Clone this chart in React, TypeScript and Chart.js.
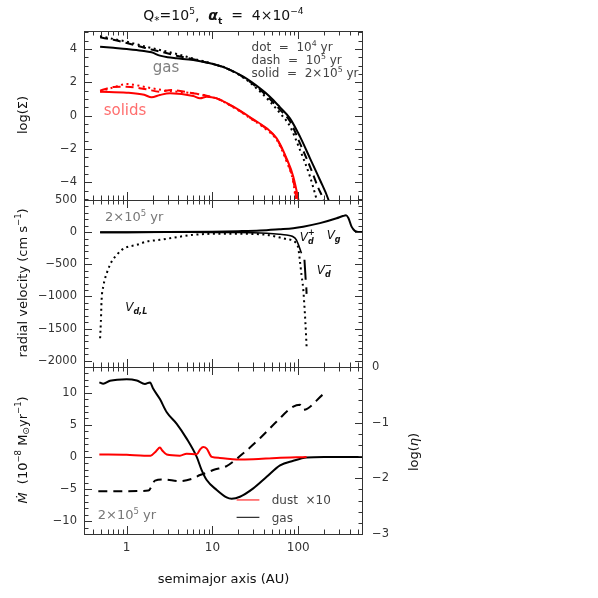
import React, { useEffect, useRef } from 'react';
import { Chart, registerables } from 'chart.js';
Chart.register(...registerables);

const FONT = 'DejaVu Sans';

// ---------- axes ----------
const X_MIN = 0.318;
const X_MAX = 568;
const X_MAJOR = [1, 10, 100];
const X_MINOR = [0.4, 0.5, 0.6, 0.7, 0.8, 0.9, 2, 3, 4, 5, 6, 7, 8, 9, 20, 30, 40, 50, 60, 70, 80, 90, 200, 300, 400, 500];

const SIG_RANGE = [-5.06, 5.08];
const SIG_MAJOR = [-4, -2, 0, 2, 4];
const SIG_MINOR_STEP = 0.5;

const VEL_RANGE = [-2098, 500];
const VEL_MAJOR = [-2000, -1500, -1000, -500, 0, 500];
const VEL_MINOR_STEP = 100;

const MDOT_RANGE = [-12, 14];
const MDOT_MAJOR = [-10, -5, 0, 5, 10];
const MDOT_MINOR_STEP = 1;

const ETA_RANGE = [-3, 0];
const ETA_MAJOR = [-3, -2, -1, 0];
const ETA_MINOR_STEP = 0.2;

// ---------- panel 1: log(Sigma) [AU, value] ----------
const gasSigma2e5 = [[0.49, 4.14], [0.7, 4.07], [1.0, 4.0], [1.5, 3.9], [1.95, 3.8], [2.44, 3.6], [3.0, 3.5], [3.83, 3.44], [5.97, 3.34], [9.35, 3.14], [14.6, 2.84], [22.9, 2.34], [35.8, 1.64], [46.7, 1.14], [61.3, 0.5], [80, -0.16], [104.7, -1.26], [137, -2.56], [179, -3.86], [223, -5.0], [240, -5.6]];
const gasSigma1e5 = [[0.49, 4.7], [0.7, 4.55], [1.0, 4.36], [1.5, 4.12], [2.0, 3.95], [2.44, 3.85], [3.83, 3.6], [5.97, 3.38], [9.35, 3.14], [14.6, 2.84], [22.9, 2.3], [35.8, 1.55], [46.7, 1.0], [61.3, 0.35], [80, -0.34], [104.7, -1.66], [137, -3.06], [170, -4.3], [195, -5.0], [210, -5.6]];
const gasSigma1e4 = [[0.49, 4.78], [0.7, 4.6], [1.0, 4.44], [1.5, 4.2], [2.44, 3.94], [3.83, 3.7], [5.97, 3.42], [9.35, 3.16], [14.6, 2.84], [22.9, 2.28], [35.8, 1.45], [46.7, 0.85], [61.3, 0.15], [80, -0.64], [104.7, -2.06], [137, -3.66], [163, -5.0], [175, -5.6]];
const dustSigma2e5 = [[0.49, 1.44], [1.0, 1.38], [1.6, 1.25], [1.95, 1.1], [2.44, 1.24], [3.2, 1.34], [5.97, 1.18], [7.15, 1.04], [8.56, 1.14], [11.2, 1.04], [17.5, 0.54], [29.9, -0.22], [42.8, -0.76], [56, -1.36], [73, -2.56], [87.5, -3.66], [100, -5.0], [105, -5.6]];
const dustSigma1e5 = [[0.49, 1.5], [0.7, 1.72], [1.0, 1.74], [1.71, 1.58], [2.44, 1.44], [3.3, 1.54], [5.97, 1.34], [8.0, 1.24], [9.35, 1.14], [11.2, 1.04], [17.5, 0.52], [29.9, -0.25], [42.8, -0.8], [56, -1.4], [73, -2.65], [87.5, -3.9], [95, -5.0], [98, -5.6]];
const dustSigma1e4 = [[0.49, 1.44], [0.7, 1.7], [1.0, 1.9], [1.71, 1.7], [2.9, 1.5], [5.97, 1.34], [9.35, 1.14], [11.2, 1.04], [17.5, 0.5], [29.9, -0.28], [42.8, -0.85], [56, -1.45], [73, -2.75], [87.5, -4.0], [93, -5.0], [96, -5.6]];

// ---------- panel 2: radial velocity (cm/s) ----------
const velGas = [[0.49, 0], [1, 0], [3, 2], [10, 8], [20, 15], [35.8, 25], [60, 45], [87.5, 62], [114, 85], [179, 140], [280, 215], [330, 250], [360, 262], [385, 215], [418, 85], [456, 20], [500, 3], [568, 0]];
const velDustPlus = [[0.49, -3], [1, -3], [5, -2], [10, -3], [20, -6], [30, -10], [42.8, -18], [60, -32], [73, -45], [85, -65], [95, -120], [102, -220], [109, -330]];
const velDustMinus = [[118, -430], [122, -740], [123, null], [124, -860], [125, -960]];
const velDustL = [[0.49, -1651], [0.5, -1400], [0.51, -1055], [0.533, -847], [0.585, -640], [0.668, -458], [0.765, -354], [0.875, -276], [1.0, -234], [1.31, -198], [1.71, -146], [2.44, -120], [3.83, -78], [5.97, -42], [9.35, -26], [14.6, -24], [25, -26], [42.8, -42], [61.3, -84], [73, -110], [85, -125], [91.6, -150], [100, -249], [104.7, -458], [109, -665], [114, -872], [117, -1081], [121, -1400], [125, -1782]];

// ---------- panel 3: Mdot (1e-8 Msun/yr) and log(eta) ----------
const mdotGas = [[0.48, 11.6], [0.533, 11.4], [0.638, 11.85], [1.0, 12.1], [1.31, 11.9], [1.63, 11.35], [1.87, 11.6], [2.04, 10.6], [2.44, 9.0], [2.93, 6.95], [3.83, 5.15], [5.0, 2.85], [6.55, 0], [7.48, -2.05], [8.56, -3.6], [11.2, -5.15], [14.6, -6.3], [16.7, -6.5], [20.9, -6.2], [29.9, -4.9], [42.8, -3.1], [61.3, -1.3], [87.5, -0.6], [125, -0.1], [200, 0], [568, 0]];
const mdotDustX10 = [[0.48, 0.37], [1.0, 0.33], [1.6, 0.2], [1.9, 0.2], [2.2, 0.9], [2.44, 1.45], [2.6, 1.0], [2.93, 0.37], [4.18, 0.2], [5.0, 0.5], [6.55, 0.4], [7.2, 1.2], [7.8, 1.55], [8.56, 1.3], [9.8, 0], [12.2, -0.15], [19.1, -0.4], [29.9, -0.35], [56, -0.15], [125, 0]];
const logEta = [[0.467, -2.23], [1.0, -2.23], [1.79, -2.22], [2.14, -2.04], [2.67, -2.02], [4.18, -2.05], [5.97, -2.0], [7.15, -1.94], [8.56, -1.9], [10.2, -1.85], [14.6, -1.78], [20.9, -1.6], [35.8, -1.28], [56, -0.98], [87.5, -0.71], [104.7, -0.68], [114, -0.77], [195, -0.49]];

// ---------- helpers ----------
const pts = (arr: any[]) => arr.map(([x, y]) => ({ x, y }));
const range = (a: number, b: number, s: number) => {
  const out: number[] = [];
  for (let i = 0; a + i * s <= b + 1e-9; i++) out.push(+(a + i * s).toFixed(6));
  return out;
};

const RED = 'rgb(255,0,0)';
const BLK = '#000';

function line(data: any[], color: string, dash: number[] = [], yAxisID = 'y', width = 2) {
  return {
    data: pts(data),
    borderColor: color,
    borderWidth: width,
    borderDash: dash,
    pointRadius: 0,
    fill: false,
    cubicInterpolationMode: 'monotone',
    spanGaps: false,
    yAxisID,
  };
}

type Seg = { t: string; s?: number; dy?: number; st?: string };
function rich(ctx: CanvasRenderingContext2D, x: number, y: number, segs: Seg[], size: number, align: 'left' | 'center' | 'right', color: string) {
  const fonts = segs.map(g => `${g.st ? g.st + ' ' : ''}${(size * (g.s ?? 1)).toFixed(1)}px "${FONT}"`);
  let w = 0;
  segs.forEach((g, i) => { ctx.font = fonts[i]; w += ctx.measureText(g.t).width; });
  let cx = align === 'center' ? x - w / 2 : align === 'right' ? x - w : x;
  ctx.fillStyle = color;
  ctx.textAlign = 'left';
  ctx.textBaseline = 'alphabetic';
  const base = y + size * 0.36;
  segs.forEach((g, i) => {
    ctx.font = fonts[i];
    ctx.fillText(g.t, cx, base + (g.dy ?? 0) * size);
    cx += ctx.measureText(g.t).width;
  });
}
function richRot(ctx: CanvasRenderingContext2D, x: number, y: number, segs: Seg[], size: number, color: string) {
  ctx.save();
  ctx.translate(x, y);
  ctx.rotate(-Math.PI / 2);
  rich(ctx, 0, 0, segs, size, 'center', color);
  ctx.restore();
}
function drawV(ctx: CanvasRenderingContext2D, x: number, yc: number, sub: string, sup: string | null) {
  ctx.fillStyle = '#111';
  ctx.textAlign = 'left';
  ctx.textBaseline = 'alphabetic';
  ctx.font = `italic 12px "${FONT}"`;
  const base = yc + 4;
  ctx.fillText('V', x, base);
  const w = ctx.measureText('V').width;
  ctx.font = `italic bold 8px "${FONT}"`;
  ctx.fillText(sub, x + w, base + 3);
  if (sup) ctx.fillText(sup, x + w, base - 6);
}

function tickSet(ctx: CanvasRenderingContext2D, a: any, scale: any, values: number[], len: number, side: string) {
  for (const v of values) {
    if (v < scale.min - 1e-9 || v > scale.max + 1e-9) continue;
    const p = Math.round(scale.getPixelForValue(v)) + 0.5;
    ctx.beginPath();
    if (side === 'top') { ctx.moveTo(p, a.top); ctx.lineTo(p, a.top + len); }
    if (side === 'bottom') { ctx.moveTo(p, a.bottom); ctx.lineTo(p, a.bottom - len); }
    if (side === 'left') { ctx.moveTo(a.left, p); ctx.lineTo(a.left + len, p); }
    if (side === 'right') { ctx.moveTo(a.right, p); ctx.lineTo(a.right - len, p); }
    ctx.stroke();
  }
}

type PanelCfg = {
  id: string;
  top: number;
  bottom: number;
  yRange: number[];
  yMajor: number[];
  yMinorStep: number;
  showX: boolean;
  right?: { range: number[]; major: number[]; minorStep: number };
  datasets: any[];
  annotate: (ctx: CanvasRenderingContext2D, X: (v: number) => number, Y: (v: number) => number, chart: any) => void;
};

const MAJ = 8;
const MIN = 4.5;

function makePanel(canvas: HTMLCanvasElement, c: PanelCfg) {
  const xh = c.showX ? 64 : 0;
  const tickFont = { family: FONT, size: 11.5 };
  const scales: any = {
    x: {
      type: 'logarithmic', min: X_MIN, max: X_MAX, bounds: 'data',
      grid: { display: false, drawTicks: false }, border: { display: false },
      ticks: { display: c.showX, padding: 7, color: '#333', font: { family: FONT, size: 12 }, autoSkip: false, maxRotation: 0, callback: (v: any) => String(v) },
      afterBuildTicks: (s: any) => { s.ticks = X_MAJOR.map(v => ({ value: v })); },
      afterFit: (s: any) => { s.height = xh; },
    },
    y: {
      type: 'linear', position: 'left', min: c.yRange[0], max: c.yRange[1], bounds: 'data',
      grid: { display: false, drawTicks: false }, border: { display: false },
      ticks: { padding: 7, color: '#333', font: tickFont, autoSkip: false, callback: (v: any) => String(v).replace('-', '\u2212') },
      afterBuildTicks: (s: any) => { s.ticks = c.yMajor.map(v => ({ value: v })); },
      afterFit: (s: any) => { s.width = 84; },
    },
  };
  if (c.right) {
    const r = c.right;
    scales.y2 = {
      type: 'linear', position: 'right', min: r.range[0], max: r.range[1], bounds: 'data',
      grid: { display: false, drawTicks: false }, border: { display: false },
      ticks: { padding: 9, color: '#333', font: tickFont, autoSkip: false, callback: (v: any) => String(v).replace('-', '\u2212') },
      afterBuildTicks: (s: any) => { s.ticks = r.major.map(v => ({ value: v })); },
      afterFit: (s: any) => { s.width = 598 - 363; },
    };
  }
  const framePlugin = {
    id: 'frame_' + c.id,
    afterDraw(chart: any) {
      const ctx: CanvasRenderingContext2D = chart.ctx;
      const a = chart.chartArea;
      const sx = chart.scales.x;
      const sy = chart.scales.y;
      ctx.save();
      ctx.strokeStyle = '#333';
      ctx.lineWidth = 1;
      ctx.strokeRect(a.left + 0.5, a.top + 0.5, a.right - a.left - 1, a.bottom - a.top);
      tickSet(ctx, a, sx, X_MAJOR, MAJ, 'top');
      tickSet(ctx, a, sx, X_MINOR, MIN, 'top');
      tickSet(ctx, a, sx, X_MAJOR, MAJ, 'bottom');
      tickSet(ctx, a, sx, X_MINOR, MIN, 'bottom');
      const yMinor = range(Math.ceil(c.yRange[0] / c.yMinorStep) * c.yMinorStep, c.yRange[1], c.yMinorStep);
      tickSet(ctx, a, sy, c.yMajor, MAJ, 'left');
      tickSet(ctx, a, sy, yMinor, MIN, 'left');
      if (c.right) {
        const s2 = chart.scales.y2;
        const r = c.right;
        const m2 = range(r.range[0], r.range[1], r.minorStep);
        tickSet(ctx, a, s2, r.major, MAJ, 'right');
        tickSet(ctx, a, s2, m2, MIN, 'right');
      } else {
        tickSet(ctx, a, sy, c.yMajor, MAJ, 'right');
        tickSet(ctx, a, sy, yMinor, MIN, 'right');
      }
      c.annotate(ctx, (v) => sx.getPixelForValue(v), (v) => sy.getPixelForValue(v), chart);
      ctx.restore();
    },
  };
  return new Chart(canvas, {
    type: 'line',
    data: { datasets: c.datasets },
    options: {
      animation: false,
      responsive: false,
      devicePixelRatio: 1,
      events: [],
      layout: { padding: { top: c.top, bottom: 598 - c.bottom - xh, left: 0, right: c.right ? 0 : 598 - 363 } },
      plugins: { legend: { display: false }, tooltip: { enabled: false }, title: { display: false } },
      scales,
    } as any,
    plugins: [framePlugin],
  } as any);
}

const DOT = [2, 3.5];
const DASH = [8, 5];

export default function App() {
  const r1 = useRef<HTMLCanvasElement>(null);
  const r2 = useRef<HTMLCanvasElement>(null);
  const r3 = useRef<HTMLCanvasElement>(null);

  useEffect(() => {
    const c1 = makePanel(r1.current!, {
      id: 'sigma', top: 31, bottom: 200, yRange: SIG_RANGE, yMajor: SIG_MAJOR, yMinorStep: SIG_MINOR_STEP, showX: false,
      datasets: [
        line(dustSigma1e4, RED, DOT),
        line(dustSigma1e5, RED, DASH),
        line(dustSigma2e5, RED),
        line(gasSigma1e4, BLK, DOT),
        line(gasSigma1e5, BLK, DASH),
        line(gasSigma2e5, BLK),
      ],
      annotate: (ctx, X, Y) => {
        rich(ctx, 223.5, 15, [
          { t: 'Q' }, { t: '*', s: 0.75, dy: 0.25 }, { t: '=10' }, { t: '5', s: 0.65, dy: -0.4 }, { t: ',  ' },
          { t: 'α', st: 'italic bold' }, { t: 't', s: 0.65, dy: 0.25, st: 'bold' }, { t: '  =  4×10' }, { t: '−4', s: 0.65, dy: -0.4 },
        ], 14, 'center', '#111');
        rich(ctx, X(2.87), Y(2.94), [{ t: 'gas' }], 15, 'center', '#808080');
        rich(ctx, X(0.955), Y(0.38), [{ t: 'solids' }], 15, 'center', 'rgb(255,110,110)');
        rich(ctx, X(28.5), Y(4.14), [{ t: 'dot  =  10' }, { t: '4', s: 0.65, dy: -0.4 }, { t: ' yr' }], 12, 'left', '#444');
        rich(ctx, X(28.5), Y(3.38), [{ t: 'dash  =  10' }, { t: '5', s: 0.65, dy: -0.4 }, { t: ' yr' }], 12, 'left', '#444');
        rich(ctx, X(28.5), Y(2.58), [{ t: 'solid  =  2×10' }, { t: '5', s: 0.65, dy: -0.4 }, { t: ' yr' }], 12, 'left', '#444');
        richRot(ctx, 22, 115, [{ t: 'log(Σ)' }], 13, '#111');
      },
    });
    const c2 = makePanel(r2.current!, {
      id: 'vel', top: 200, bottom: 367, yRange: VEL_RANGE, yMajor: VEL_MAJOR, yMinorStep: VEL_MINOR_STEP, showX: false,
      datasets: [
        line(velDustL, BLK, DOT),
        line(velDustPlus, BLK, [], 'y', 1.6),
        line(velDustMinus, BLK, [], 'y', 2),
        line(velGas, BLK),
      ],
      annotate: (ctx, X, Y) => {
        rich(ctx, X(0.56), Y(243), [{ t: '2×10' }, { t: '5', s: 0.65, dy: -0.4 }, { t: ' yr' }], 13, 'left', '#777');
        drawV(ctx, X(104), Y(-69), 'd', '+');
        drawV(ctx, X(214), Y(-42), 'g', null);
        drawV(ctx, X(164), Y(-587), 'd', '−');
        drawV(ctx, X(0.96), Y(-1159), 'd,L', null);
        richRot(ctx, 22, 283, [{ t: 'radial velocity (cm s' }, { t: '−1', s: 0.65, dy: -0.4 }, { t: ')' }], 13, '#111');
      },
    });
    const c3 = makePanel(r3.current!, {
      id: 'mdot', top: 367, bottom: 534, yRange: MDOT_RANGE, yMajor: MDOT_MAJOR, yMinorStep: MDOT_MINOR_STEP, showX: true,
      right: { range: ETA_RANGE, major: ETA_MAJOR, minorStep: ETA_MINOR_STEP },
      datasets: [
        line(logEta, BLK, [9, 6], 'y2'),
        line(mdotDustX10, RED),
        line(mdotGas, BLK),
      ],
      annotate: (ctx, X, Y, chart) => {
        rich(ctx, X(0.46), Y(-9.0), [{ t: '2×10' }, { t: '5', s: 0.65, dy: -0.4 }, { t: ' yr' }], 13, 'left', '#777');
        ctx.lineWidth = 1;
        ctx.strokeStyle = RED;
        ctx.beginPath(); ctx.moveTo(X(19.1), Y(-6.7)); ctx.lineTo(X(35.2), Y(-6.7)); ctx.stroke();
        ctx.strokeStyle = BLK;
        ctx.beginPath(); ctx.moveTo(X(19.1), Y(-9.4)); ctx.lineTo(X(35.2), Y(-9.4)); ctx.stroke();
        rich(ctx, X(49), Y(-6.7), [{ t: 'dust  ×10' }], 12, 'left', '#444');
        rich(ctx, X(49), Y(-9.4), [{ t: 'gas' }], 12, 'left', '#444');
        const a = chart.chartArea;
        rich(ctx, (a.left + a.right) / 2, 578, [{ t: 'semimajor axis (AU)' }], 13, 'center', '#111');
        richRot(ctx, 22, 450, [
          { t: 'Ṁ', st: 'italic' }, { t: '  (10' }, { t: '−8', s: 0.65, dy: -0.4 }, { t: ' M' }, { t: '⊙', s: 0.7, dy: 0.2 }, { t: 'yr' }, { t: '−1', s: 0.65, dy: -0.4 }, { t: ')' },
        ], 13, '#111');
        richRot(ctx, 413, 452, [{ t: 'log(' }, { t: 'η', st: 'italic' }, { t: ')' }], 13, '#111');
      },
    });
    return () => { c1.destroy(); c2.destroy(); c3.destroy(); };
  }, []);

  const cs: React.CSSProperties = { position: 'absolute', left: 0, top: 0, width: 598, height: 598 };
  return (
    <div style={{ position: 'absolute', left: 0, top: 0, width: 598, height: 598, background: '#fff' }}>
      <canvas ref={r1} width={598} height={598} style={cs} />
      <canvas ref={r2} width={598} height={598} style={cs} />
      <canvas ref={r3} width={598} height={598} style={cs} />
    </div>
  );
}
